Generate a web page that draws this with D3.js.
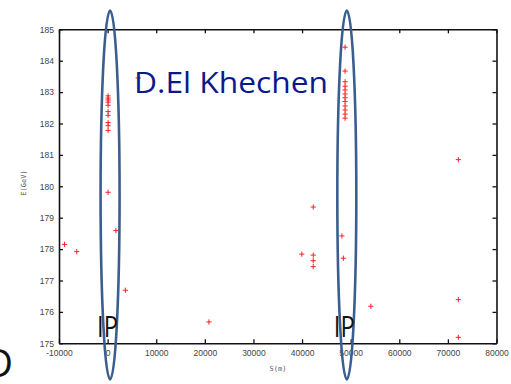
<!DOCTYPE html>
<html>
<head>
<meta charset="utf-8">
<script src="https://cdn.jsdelivr.net/npm/d3@7"></script>
<style>
  body { margin: 0; background: #fff; }
  svg { display: block; }
</style>
</head>
<body>
<svg id="chart" width="511" height="384"></svg>
<script>
// data
const sValues = [100, 100, 100, 100, 100, 100, 100, 100, 100, 100, 100, 1700, 3650, -8850, -6350, 20850, 6300,
  48850, 48850, 48850, 48850, 48850, 48850, 48850, 48850, 48850, 48850, 48850, 48850,
  48200, 48500, 54150, 42300, 39950, 42300, 42300, 42300, 72150, 72150, 72150]
const eValues = [182.88, 182.81, 182.75, 182.68, 182.58, 182.38, 182.26, 182.03, 181.93, 181.78, 179.81, 178.59, 176.69, 178.15, 177.92, 175.68, 183.45,
  184.43, 183.67, 183.33, 183.19, 183.07, 182.94, 182.82, 182.70, 182.56, 182.43, 182.30, 182.17,
  178.42, 177.71, 176.18, 179.34, 177.84, 177.81, 177.63, 177.44, 180.85, 176.39, 175.19]
const xTicks = [-10000, 0, 10000, 20000, 30000, 40000, 50000, 60000, 70000, 80000]
const yTicks = [175, 176, 177, 178, 179, 180, 181, 182, 183, 184, 185]
const ipPositions = [200, 48900]

const svg = d3.select('#chart')
svg.append('rect').attr('width', 511).attr('height', 384).attr('fill', '#fff')

const x = d3.scaleLinear().domain([-10000, 80000]).range([59, 496.5])
const y = d3.scaleLinear().domain([175, 185]).range([343.3, 29.3])

// axes, ticks pointing inward
const axisGroup = (gen, tx, ty) => {
  const g = svg.append('g').attr('transform', `translate(${tx},${ty})`).call(gen)
  g.select('.domain').attr('stroke', '#111').attr('stroke-width', 1.6)
  g.selectAll('.tick line').attr('stroke', '#111').attr('stroke-width', 1.3)
  g.selectAll('.tick text').attr('fill', '#444').attr('font-family', 'Liberation Sans, Arial, sans-serif').attr('font-size', 8.5)
  return g
}
axisGroup(d3.axisBottom(x).tickValues(xTicks).tickSizeInner(-4).tickSizeOuter(0).tickPadding(7).tickFormat(d => String(d)), 0, y(175))
axisGroup(d3.axisLeft(y).tickValues(yTicks).tickSizeInner(-4).tickSizeOuter(0).tickPadding(5).tickFormat(d => String(d)), x(-10000), 0)
axisGroup(d3.axisTop(x).tickValues(xTicks).tickSizeInner(-4).tickSizeOuter(0).tickFormat(''), 0, y(185))
axisGroup(d3.axisRight(y).tickValues(yTicks).tickSizeInner(-4).tickSizeOuter(0).tickFormat(''), x(80000), 0)

// axis titles
svg.append('text')
  .attr('x', 278).attr('y', 371)
  .attr('text-anchor', 'middle')
  .attr('font-family', 'DejaVu Sans Mono, monospace').attr('font-size', 7)
  .attr('fill', '#555')
  .text('S(m)')
svg.append('text')
  .attr('transform', 'translate(26,183) rotate(-90)')
  .attr('text-anchor', 'middle')
  .attr('font-family', 'DejaVu Sans Mono, monospace').attr('font-size', 7)
  .attr('fill', '#555')
  .text('E(GeV)')

// red plus markers
const pts = sValues.map((s, i) => ({ s, e: eValues[i] }))
const sz = 2.6
svg.append('g').selectAll('path')
  .data(pts).enter()
  .append('path')
  .attr('d', d => `M${x(d.s) - sz},${y(d.e)}h${2 * sz}M${x(d.s)},${y(d.e) - sz}v${2 * sz}`)
  .attr('stroke', '#ff2020')
  .attr('stroke-width', 1)
  .attr('fill', 'none')

// annotation text
svg.append('text')
  .attr('x', 134).attr('y', 93)
  .attr('font-family', 'Open Sans, sans-serif').attr('font-size', 30)
  .attr('fill', '#0a1a8c')
  .attr('textLength', 194).attr('lengthAdjust', 'spacingAndGlyphs')
  .text('D.El Khechen')

// IP ellipses and labels
svg.append('g').selectAll('ellipse')
  .data(ipPositions).enter()
  .append('ellipse')
  .attr('cx', d => x(d) + 1.5)
  .attr('cy', 195)
  .attr('rx', 9.5)
  .attr('ry', 184.5)
  .attr('fill', 'none')
  .attr('stroke', '#3a5e8e')
  .attr('stroke-width', 2.6)
svg.append('g').selectAll('text')
  .data(ipPositions).enter()
  .append('text')
  .attr('x', d => x(d) - 11.5)
  .attr('y', 337)
  .attr('font-family', 'Open Sans, sans-serif').attr('font-size', 29)
  .attr('fill', '#111')
  .attr('textLength', 21).attr('lengthAdjust', 'spacingAndGlyphs')
  .text('IP')

// the reference shows this letter clipped at the left edge
svg.append('text')
  .attr('x', 13).attr('y', 377)
  .attr('text-anchor', 'end')
  .attr('font-family', 'Open Sans, sans-serif').attr('font-size', 39)
  .attr('fill', '#111')
  .text('D')
</script>
</body>
</html>
